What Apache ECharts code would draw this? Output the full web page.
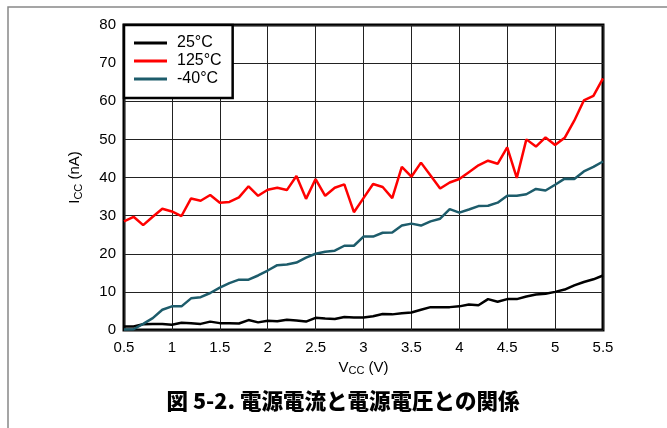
<!DOCTYPE html>
<html>
<head>
<meta charset="utf-8">
<script src="https://cdn.jsdelivr.net/npm/echarts@6/dist/echarts.min.js"></script>
<style>
html,body{margin:0;padding:0;background:#fff;}
#c{width:667px;height:428px;}
</style>
</head>
<body>
<div id="c"></div>
<script>
var vcc = [0.5,0.6,0.7,0.8,0.9,1.0,1.1,1.2,1.3,1.4,1.5,1.6,1.7,1.8,1.9,2.0,2.1,2.2,2.3,2.4,2.5,2.6,2.7,2.8,2.9,3.0,3.1,3.2,3.3,3.4,3.5,3.6,3.7,3.8,3.9,4.0,4.1,4.2,4.3,4.4,4.5,4.6,4.7,4.8,4.9,5.0,5.1,5.2,5.3,5.4,5.5];
var icc25 = [0.9,0.9,1.5,1.6,1.6,1.4,1.9,1.8,1.6,2.2,1.8,1.8,1.7,2.6,2.0,2.4,2.3,2.7,2.5,2.2,3.2,3.0,2.9,3.4,3.3,3.3,3.6,4.2,4.1,4.4,4.6,5.3,6.0,6.0,6.0,6.2,6.7,6.5,8.1,7.4,8.1,8.1,8.8,9.3,9.5,10.0,10.6,11.7,12.6,13.3,14.3];
var icc125 = [28.5,29.7,27.5,29.7,31.8,31.1,29.9,34.5,33.9,35.4,33.4,33.6,34.8,37.7,35.2,36.8,37.3,36.7,40.4,34.4,39.6,35.2,37.3,38.2,30.9,34.6,38.3,37.5,34.6,42.8,40.2,43.9,40.5,37.1,38.7,39.6,41.4,43.2,44.4,43.6,47.9,39.9,50.0,48.1,50.5,48.5,50.4,54.9,60.2,61.4,66.0];
var iccM40 = [0.1,0.2,1.6,3.1,5.3,6.2,6.2,8.3,8.6,9.7,11.1,12.3,13.2,13.2,14.3,15.6,17.0,17.2,17.7,19.0,20.0,20.5,20.8,22.1,22.1,24.5,24.5,25.5,25.6,27.4,27.9,27.4,28.5,29.2,31.7,30.8,31.6,32.5,32.6,33.4,35.2,35.2,35.6,37.0,36.6,38.1,39.7,39.6,41.6,42.8,44.2];
var seriesNames = ['25°C','125°C','-40°C'];
var seriesColors = ['#000000','#ff0000','#1d5c6b'];
var xTicks = {min:0.5, max:5.5, step:0.5};
var yTicks = {min:0, max:80, step:10};
var titleText = '図 5-2. 電源電流と電源電圧との関係';

function pairs(ys){ return vcc.map(function(x,i){ return [x, ys[i]]; }); }
var font = 'Liberation Sans, Arial, sans-serif';
var chart = echarts.init(document.getElementById('c'), null, {renderer:'canvas'});
var dataSets = [icc25, icc125, iccM40];
chart.setOption({
  animation:false,
  backgroundColor:'#fff',
  graphic:[
    {type:'rect', shape:{x:8,y:7,width:700,height:500}, style:{fill:'none',stroke:'#888',lineWidth:1.5}, z:-10},
    {type:'text', x:343, y:401, style:{text:titleText, font:'900 21.5px "Noto Sans CJK JP"', fill:'#000', align:'center', verticalAlign:'middle'}, z:10}
  ],
  grid:{left:124, right:64, top:25, bottom:98, show:true, borderColor:'#000', borderWidth:3, backgroundColor:'#fff'},
  legend:{
    left:124, top:25, orient:'vertical',
    data:seriesNames,
    icon:'rect', itemWidth:33, itemHeight:3, itemGap:2,
    padding:[10,11,11,10],
    backgroundColor:'#fff', borderColor:'#000', borderWidth:2.5,
    textStyle:{fontFamily:font, fontSize:16, color:'#000', padding:[0,0,0,5]},
    z:20
  },
  xAxis:{
    type:'value', min:xTicks.min, max:xTicks.max, interval:xTicks.step,
    axisLine:{show:false}, axisTick:{show:false},
    splitLine:{show:true, lineStyle:{color:'#222', width:1}},
    axisLabel:{fontFamily:font, fontSize:15, color:'#000', margin:10, formatter:function(v){return String(v);}},
    name:'{m|V}{s|CC}{m| (V)}', nameLocation:'middle', nameGap:28,
    nameTextStyle:{rich:{m:{fontFamily:font, fontSize:15, color:'#000', lineHeight:16, verticalAlign:'bottom'}, s:{fontFamily:font, fontSize:11, color:'#000', lineHeight:12, verticalAlign:'bottom', padding:[0,0,-2,0]}}}
  },
  yAxis:{
    type:'value', min:yTicks.min, max:yTicks.max, interval:yTicks.step,
    axisLine:{show:false}, axisTick:{show:false},
    splitLine:{show:true, lineStyle:{color:'#222', width:1}},
    axisLabel:{fontFamily:font, fontSize:15, color:'#000', margin:8},
    name:'{m|I}{s|CC}{m| (nA)}', nameLocation:'middle', nameGap:42,
    nameTextStyle:{rich:{m:{fontFamily:font, fontSize:15, color:'#000', lineHeight:16, verticalAlign:'bottom'}, s:{fontFamily:font, fontSize:11, color:'#000', lineHeight:12, verticalAlign:'bottom', padding:[0,0,-2,0]}}}
  },
  series: seriesNames.map(function(n,i){
    return {name:n, type:'line', data:pairs(dataSets[i]), showSymbol:false, symbol:'none',
      lineStyle:{color:seriesColors[i], width:2.5}, itemStyle:{color:seriesColors[i]}, z:5+i};
  })
});
</script>
</body>
</html>
